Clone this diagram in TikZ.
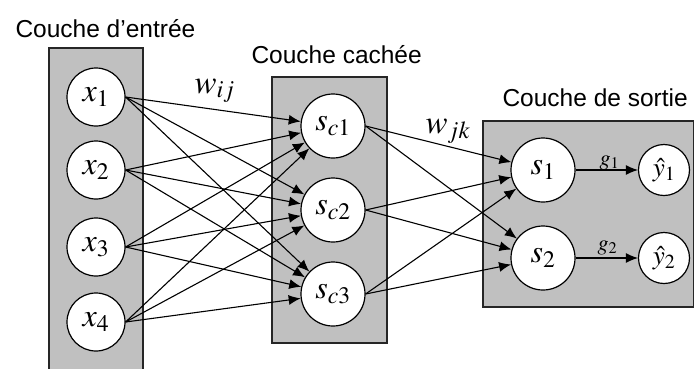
\documentclass[tikz,border=0pt]{standalone}
\usepackage{mathptmx}
\usepackage[no-math]{fontspec}
\setmainfont{Liberation Sans}
\usetikzlibrary{arrows.meta}
\definecolor{layergray}{RGB}{192,192,192}
\tikzset{
layer/.style={draw=black!85, fill=layergray, line width=1.3pt},
neuron/.style={circle, draw, fill=white, line width=1.2pt, minimum size=#1, inner sep=0pt, font=\fontsize{32}{38}\selectfont},
neuron/.default=58pt,
arr/.style={-{Latex[length=12pt,width=10pt]}, line width=1.1pt},
title/.style={anchor=base west, font=\fontsize{24.5}{29}\selectfont},
weight/.style={anchor=base west, font=\fontsize{33}{38}\selectfont},
gain/.style={anchor=base west, font=\fontsize{22}{26}\selectfont},
}

\begin{document}
\begin{tikzpicture}[x=1pt, y=-1pt]
        \useasboundingbox (0,0) rectangle (695,368);
        \clip (0,0) rectangle (695,368);

        % couches
        \draw[layer] (49,48) rectangle (143,380);
        \draw[layer] (272,77) rectangle (387,343);
        \draw[layer] (483,121) rectangle (693.5,307);

        \node[title] (tin) at (12,37) {Couche d'entrée};
        \node[title] (thid) at (248,63) {Couche cachée};
        \node[title] (tout) at (499,106) {Couche de sortie};

        % neurones
        \node[neuron] (x1) at (96,97) {$x_1$};
        \node[neuron] (x2) at (96,170) {$x_2$};
        \node[neuron] (x3) at (96,247) {$x_3$};
        \node[neuron] (x4) at (96,322) {$x_4$};

        \node[neuron=64pt] (sc1) at (333,126) {$s_{c1}$};
        \node[neuron=64pt] (sc2) at (333,210) {$s_{c2}$};
        \node[neuron=64pt] (sc3) at (333,294) {$s_{c3}$};

        \node[neuron=64pt] (s1) at (543,170) {$s_1$};
        \node[neuron=64pt] (s2) at (543,258) {$s_2$};

        \node[neuron=51pt, font=\fontsize{27}{32}\selectfont] (y1) at (664,170) {$\hat{y}_1$};
        \node[neuron=51pt, font=\fontsize{27}{32}\selectfont] (y2) at (664,258) {$\hat{y}_2$};

        % poids
        \node[weight] (wij) at (191,93) {$w_{ij}$};
        \node[weight] (wjk) at (422,133) {$w_{jk}$};

        \draw[arr] (x1.east) -- (sc1);
        \draw[arr] (x1.east) -- (sc2);
        \draw[arr] (x1.east) -- (sc3);
        \draw[arr] (x2.east) -- (sc1);
        \draw[arr] (x2.east) -- (sc2);
        \draw[arr] (x2.east) -- (sc3);
        \draw[arr] (x3.east) -- (sc1);
        \draw[arr] (x3.east) -- (sc2);
        \draw[arr] (x3.east) -- (sc3);
        \draw[arr] (x4.east) -- (sc1);
        \draw[arr] (x4.east) -- (sc2);
        \draw[arr] (x4.east) -- (sc3);

        \draw[arr] (sc1.east) -- (s1);
        \draw[arr] (sc1.east) -- (s2);
        \draw[arr] (sc2.east) -- (s1);
        \draw[arr] (sc2.east) -- (s2);
        \draw[arr] (sc3.east) -- (s1);
        \draw[arr] (sc3.east) -- (s2);

        \draw[arr] (s1) -- (y1);
        \draw[arr] (s2) -- (y2);
        \node[gain] (g1) at (596,165) {$g_1$};
        \node[gain] (g2) at (594,250) {$g_2$};
    \end{tikzpicture}
\end{document}
